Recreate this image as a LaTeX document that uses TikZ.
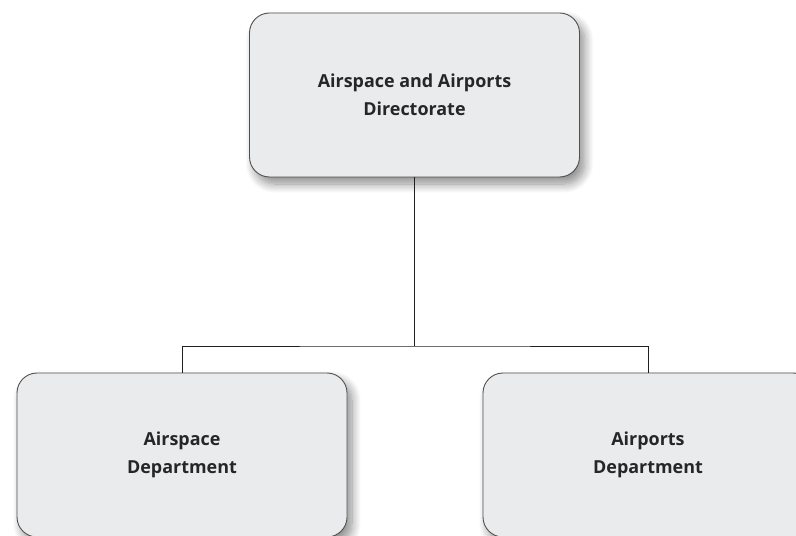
\documentclass[tikz,border=0pt]{standalone}
\usepackage{fontspec}
\setmainfont{Open Sans}
\usetikzlibrary{shadows.blur}
\definecolor{boxfill}{HTML}{E9EBED}
\definecolor{boxline}{HTML}{505050}
\definecolor{linkc}{HTML}{231F20}
\begin{document}
\begin{tikzpicture}[x=1bp,y=-1bp,
  unitbox/.style={draw=boxline, line width=0.9bp, fill=boxfill, rounded corners=20bp,
    minimum width=330bp, minimum height=164bp, inner sep=0pt, align=center,
    font=\fontsize{18}{28}\selectfont\bfseries, text=black!85,
    blur shadow={shadow xshift=5bp, shadow yshift=-7bp, shadow blur steps=10, shadow blur radius=9bp, shadow opacity=45}},
  link/.style={draw=linkc, line width=1bp}]
\useasboundingbox (0,0) rectangle (796,536);
\node[unitbox] (top) at (414.5,95) {Airspace and Airports\\Directorate};
\node[unitbox] (left) at (182,455) {Airspace\\Department};
\node[unitbox] (right) at (648,455) {Airports\\Department};
\coordinate (mid) at (414.5,346);
\draw[link] (top.south) -- (mid);
\draw[link] (left.north) |- (mid) -| (right.north);
\end{tikzpicture}
\end{document}
